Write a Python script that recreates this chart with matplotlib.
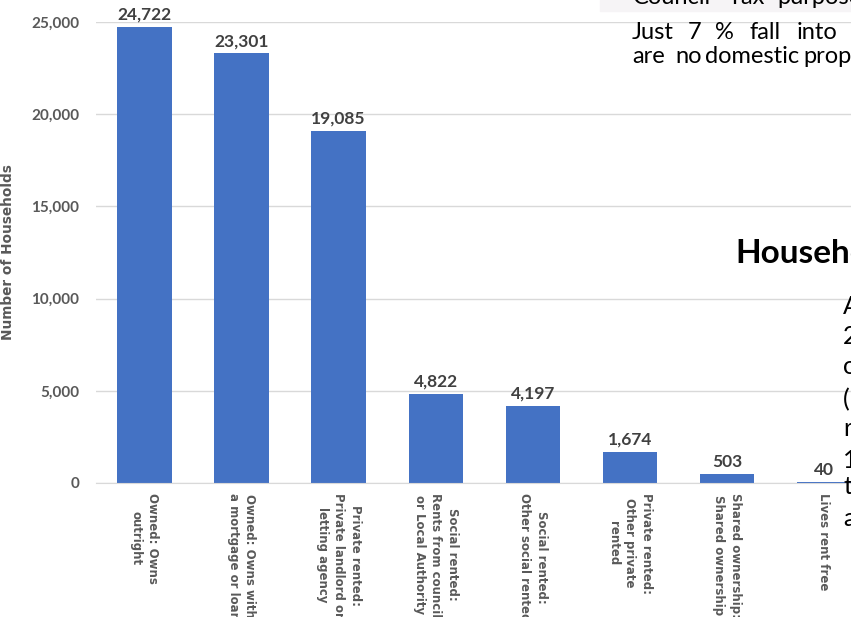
import matplotlib.pyplot as plt
from matplotlib.patches import Rectangle

# Tenure categories and household counts
categories = [
    "Owned: Owns\noutright",
    "Owned: Owns with\na mortgage or loan",
    "Private rented:\nPrivate landlord or\nletting agency",
    "Social rented:\nRents from council\nor Local Authority",
    "Social rented:\nOther social rented",
    "Private rented:\nOther private\nrented",
    "Shared ownership:\nShared ownership",
    "Lives rent free",
]
households = [24722, 23301, 19085, 4822, 4197, 1674, 503, 40]
y_ticks = [0, 5000, 10000, 15000, 20000, 25000]

plt.rcParams["font.family"] = ["Lato", "DejaVu Sans"]
grey = "#595959"

fig = plt.figure(figsize=(8.51, 6.17), dpi=100)
W, H = 851, 617

# faint band behind the top line of page text
fig.patches.append(Rectangle((600 / W, 1 - 11 / H), 251 / W, 11 / H,
                             transform=fig.transFigure, color="#f6f4f6", zorder=0))

ax = fig.add_axes([96 / W, 134 / H, 776.5 / W, 461 / H])
ax.patch.set_alpha(0)

x = range(len(categories))
bars = ax.bar(x, households, width=0.56, color="#4472C4", zorder=2)

for i, v in enumerate(households):
    ax.annotate("{:,}".format(v), (i, v), xytext=(0, 3), textcoords="offset points",
                ha="center", va="bottom", fontsize=12.5, fontweight="bold",
                color="#404040", annotation_clip=False)

ax.set_xlim(-0.5, len(categories) - 0.5)
ax.set_ylim(0, 25000)
ax.set_yticks(y_ticks)
ax.set_yticklabels(["{:,}".format(t) for t in y_ticks], fontsize=11,
                   fontweight="bold", color=grey)
ax.set_xticks(list(x))
ax.set_xticklabels(categories, rotation=-90, ha="center", va="top",
                   multialignment="center", fontsize=8.5, fontweight="bold",
                   color=grey, linespacing=1.35, family="DejaVu Sans")
ax.tick_params(axis="both", length=0)
ax.tick_params(axis="y", pad=12)
ax.tick_params(axis="x", pad=7)

ax.grid(axis="y", color="#d9d9d9", linewidth=1, zorder=0)
for s in ["top", "right", "left"]:
    ax.spines[s].set_visible(False)
ax.spines["bottom"].set_color("#d9d9d9")

ax.set_ylabel("Number of Households", fontsize=9.8, fontweight="bold",
              color=grey, labelpad=12, family="DejaVu Sans")

# Overlapping page text visible in the screenshot (words placed as justified)
page_lines = [
    (4, [("Council", 633), ("Tax", 728), ("purposes", 777)]),
    (39, [("Just", 632), ("7", 688), ("%", 715), ("fall", 750), ("into", 797)]),
    (63, [("are", 632), ("no", 675), ("domestic", 705), ("properties", 803)]),
]
for base, words in page_lines:
    for word, xx in words:
        fig.text(xx / W, 1 - base / H, word, fontsize=17, color="black", va="baseline")

fig.text(735 / W, 1 - 263 / H, "Households", fontsize=24, fontweight="bold",
         color="black", va="baseline")
side = [("A", 307), ("2", 337), ("o", 366), ("(", 400), ("r", 429), ("1", 460), ("t", 487), ("a", 518)]
for ch, yy in side:
    fig.text(843 / W, 1 - yy / H, ch, fontsize=18, color="black", va="center")

plt.savefig("out.png", dpi=100)
